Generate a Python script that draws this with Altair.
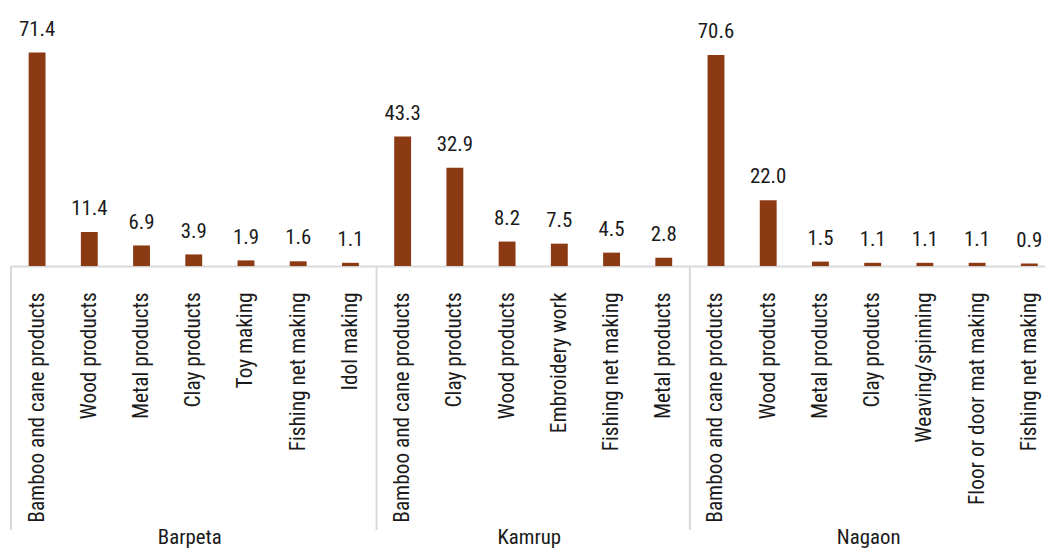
import altair as alt
import pandas as pd

districts = ["Barpeta"] * 7 + ["Kamrup"] * 6 + ["Nagaon"] * 7
crafts = [
    "Bamboo and cane products", "Wood products", "Metal products", "Clay products",
    "Toy making", "Fishing net making", "Idol making",
    "Bamboo and cane products", "Clay products", "Wood products", "Embroidery work",
    "Fishing net making", "Metal products",
    "Bamboo and cane products", "Wood products", "Metal products", "Clay products",
    "Weaving/spinning", "Floor or door mat making", "Fishing net making",
]
values = [71.4, 11.4, 6.9, 3.9, 1.9, 1.6, 1.1,
          43.3, 32.9, 8.2, 7.5, 4.5, 2.8,
          70.6, 22.0, 1.5, 1.1, 1.1, 1.1, 0.9]
group_names = ["Barpeta", "Kamrup", "Nagaon"]

FONT = "Liberation Sans Narrow, Roboto Condensed, DejaVu Sans Condensed, Arial Narrow, sans-serif"
BAR = "#8B3A13"
GRID = "#d9d9d9"
TXT = "#1a1a1a"

df = pd.DataFrame({"district": districts, "craft": crafts, "value": values})
df["pos"] = [i + 0.5 for i in range(len(df))]

# group boundaries and centres derived from the district list
bounds, centres = [], []
start = 0
for g in group_names:
    n = districts.count(g)
    bounds.append(start)
    centres.append(start + n / 2)
    start += n
sep_df = pd.DataFrame({"pos": bounds})
grp_df = pd.DataFrame({"pos": centres, "name": group_names})

W, H = 1042, 226
label_array = "[" + ",".join("'" + c + "'" for c in crafts) + "]"

xscale = alt.Scale(domain=[0, 19.8], nice=False, zero=False, padding=0)
yscale = alt.Scale(domain=[0, 75], nice=False, padding=0)

base = alt.Chart(df)

bars = base.mark_bar(size=17, color=BAR).encode(
    x=alt.X("pos:Q", scale=xscale,
            axis=alt.Axis(
                values=[p for p in df["pos"]],
                labelExpr=label_array + "[floor(datum.value)]",
                labelAngle=270, labelPadding=26, ticks=False, grid=False,
                domain=True, domainColor=GRID, domainWidth=2,
                labelFont=FONT, labelFontSize=21.5, labelColor=TXT,
                labelLimit=0, labelOverlap=False, labelFlush=False, title=None)),
    y=alt.Y("value:Q", scale=yscale, axis=None),
)

texts = base.mark_text(baseline="alphabetic", dy=-17, font=FONT, fontSize=21,
                       color=TXT).encode(
    x=alt.X("pos:Q", scale=xscale),
    y=alt.Y("value:Q", scale=yscale),
    text=alt.Text("value:Q", format=".1f"),
)

seps = alt.Chart(sep_df).mark_rule(color=GRID, strokeWidth=2).encode(
    x=alt.X("pos:Q", scale=xscale),
    y=alt.value(H),
    y2=alt.value(H + 266),
)

groups = alt.Chart(grp_df).mark_text(baseline="top", font=FONT, fontSize=21,
                                     dx=-4, color=TXT).encode(
    x=alt.X("pos:Q", scale=xscale),
    y=alt.value(H + 263),
    text="name:N",
)

chart = alt.layer(seps, bars, texts, groups).properties(
    width=W, height=H,
    autosize=alt.AutoSizeParams(type="none"),
    padding={"left": 3, "top": 32, "right": 0, "bottom": 282},
).configure_view(stroke=None)

chart.save("out.html", embed_options={"renderer": "svg", "actions": False})
